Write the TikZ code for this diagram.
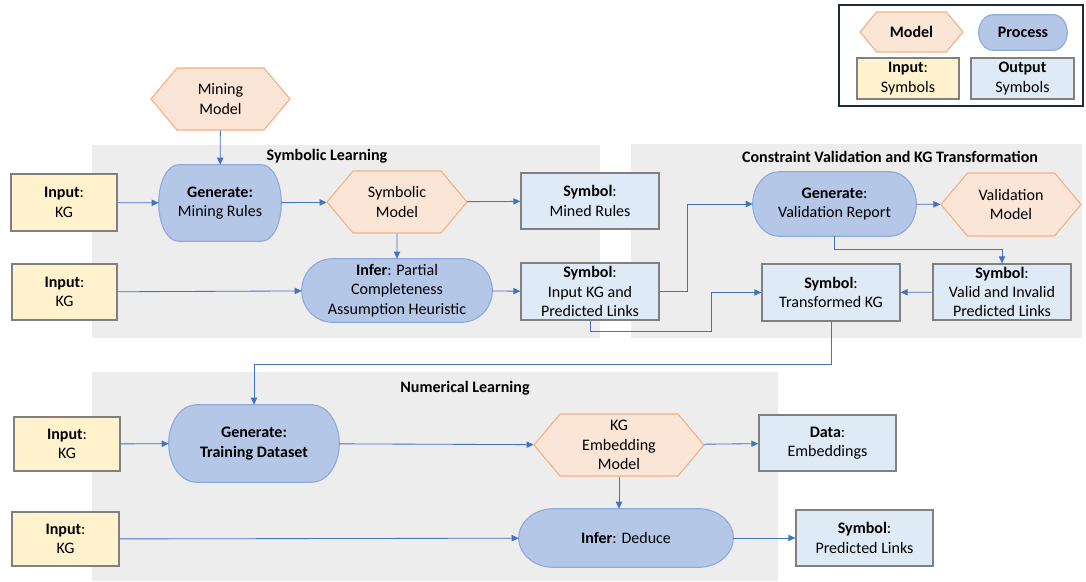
\documentclass[tikz,border=0pt]{standalone}
\usepackage{fontspec}
\setmainfont{Carlito}
\usetikzlibrary{arrows.meta,calc,shapes.symbols}

\definecolor{modelfill}{HTML}{FBE5D6}
\definecolor{modelline}{HTML}{F4B183}
\definecolor{procfill}{HTML}{B4C7E7}
\definecolor{procline}{HTML}{8FAADC}
\definecolor{infill}{HTML}{FFF2CC}
\definecolor{outfill}{HTML}{DEEBF7}
\definecolor{boxline}{HTML}{808080}
\definecolor{regionfill}{HTML}{EDEDED}
\definecolor{flowblue}{HTML}{4472C4}
\definecolor{legendline}{HTML}{1F2A3C}

\pgfdeclarelayer{regions}
\pgfdeclarelayer{shapes}
\pgfsetlayers{regions,shapes,main}

% terminator outline (elliptic ends) behind a process node
\newcommand{\procpill}[1]{%
  \begin{pgfonlayer}{shapes}
    \path[procshape] let \p1=(#1.north west), \p2=(#1.south east),
      \n1={0.161*(\x2-\x1)}, \n2={(\y1-\y2)/2} in
      (\x1+\n1,\y1) -- (\x2-\n1,\y1)
      arc[start angle=90, end angle=-90, x radius=\n1, y radius=\n2]
      -- (\x1+\n1,\y2)
      arc[start angle=270, end angle=90, x radius=\n1, y radius=\n2] -- cycle;
  \end{pgfonlayer}}

\begin{document}
\begin{tikzpicture}[
  x=0.025cm, y=-0.025cm,
  font=\fontsize{11.4}{13.8}\selectfont,
  dims/.style 2 args={minimum width=#1*0.025cm, minimum height=#2*0.025cm},
  model/.style={signal, signal to=west and east, signal pointer angle=100, draw=modelline, fill=modelfill, line width=0.8pt, align=center, inner sep=1pt},
  procbox/.style={rectangle, align=center, inner sep=1pt},
  procshape/.style={draw=procline, fill=procfill, line width=0.8pt},
  inbox/.style={rectangle, draw=boxline, fill=infill, line width=0.9pt, align=center, inner sep=1pt},
  outbox/.style={rectangle, draw=boxline, fill=outfill, line width=0.9pt, align=center, inner sep=1pt},
  region/.style={fill=regionfill},
  grouptitle/.style={font=\fontsize{11.4}{13.8}\selectfont\bfseries, inner sep=0pt},
  flow/.style={draw=flowblue, line width=0.6pt, -{Triangle[length=5pt,width=4.5pt]}}
]
\useasboundingbox (0,0) rectangle (1086,581);

% groups
\begin{pgfonlayer}{regions}
\fill[region] (92,145) rectangle (600,338);
\fill[region] (631,144) rectangle (1082,338);
\fill[region] (92,372) rectangle (778,581);
\end{pgfonlayer}
\node[grouptitle] (symtitle) at (327,156) {Symbolic Learning};
\node[grouptitle] (cvtitle) at (890,157) {Constraint Validation and KG Transformation};
\node[grouptitle] (numtitle) at (465,388) {Numerical Learning};

% legend
\draw[legendline, line width=1pt] (839,5) rectangle (1083,106);
\node[model, dims={103}{40}] (lmodel) at (911.5,32) {\textbf{Model}};
\node[procbox, dims={88}{35}] (lproc) at (1023,32.5) {\textbf{Process}};
\procpill{lproc}
\node[inbox, dims={102}{41}] (linput) at (908,78.5) {\textbf{Input}:\\Symbols};
\node[outbox, dims={103}{41}] (loutput) at (1022.5,78.5) {\textbf{Output}\\Symbols};

% symbolic learning
\node[model, dims={139}{62}] (mining) at (220.5,99) {Mining\\Model};
\node[inbox, dims={106}{57}] (in1) at (64,202.5) {\textbf{Input}:\\KG};
\node[procbox, dims={122}{76}] (genrules) at (220,203) {\textbf{Generate:}\\Mining Rules};
\procpill{genrules}
\node[model, dims={140}{62}] (symmodel) at (397,202) {Symbolic\\Model};
\node[outbox, dims={138}{56}] (minedrules) at (590,201) {\textbf{Symbol}:\\Mined Rules};
\node[inbox, dims={105}{56}] (in2) at (64.5,292) {\textbf{Input}:\\KG};
\node[procbox, dims={190}{63}] (infer) at (397,290.5) {\textbf{Infer}: Partial\\Completeness\\Assumption Heuristic};
\procpill{infer}
\node[outbox, dims={138}{57}] (inkgpl) at (590,291.5) {\textbf{Symbol}:\\Input KG and\\Predicted Links};

% constraint validation
\node[procbox, dims={163}{64}] (valreport) at (834.5,204) {\textbf{Generate}:\\Validation Report};
\procpill{valreport}
\node[model, dims={140}{63}] (valmodel) at (1011,204.5) {Validation\\Model};
\node[outbox, dims={138}{57}] (transkg) at (831,292.5) {\textbf{Symbol}:\\Transformed KG};
\node[outbox, dims={138}{56}] (validlinks) at (1002,292) {\textbf{Symbol}:\\Valid and Invalid\\Predicted Links};

% numerical learning
\node[inbox, dims={106}{54}] (in3) at (67,444) {\textbf{Input}:\\KG};
\node[procbox, dims={170}{77}] (gentrain) at (254,443.5) {\textbf{Generate:}\\\textbf{Training Dataset}};
\procpill{gentrain}
\node[model, dims={170}{62}] (kgemb) at (619,445) {KG\\Embedding\\Model};
\node[outbox, dims={137}{56}] (embed) at (827.5,443) {\textbf{Data}:\\Embeddings};
\node[inbox, dims={107}{54}] (in4) at (65.5,539) {\textbf{Input}:\\KG};
\node[procbox, dims={214}{58}] (deduce) at (626,538) {\textbf{Infer}: Deduce};
\procpill{deduce}
\node[outbox, dims={137}{56}] (predlinks) at (864.5,538) {\textbf{Symbol}:\\Predicted Links};

\coordinate (jog) at (711,331);
\coordinate (back) at (831,364);

\draw[flow] (mining) -- (genrules);
\draw[flow] (in1) -- (genrules);
\draw[flow] (genrules) -- (symmodel);
\draw[flow] (symmodel) -- (minedrules);
\draw[flow] (symmodel) -- (infer);
\draw[flow] (in2) -- (infer);
\draw[flow] (infer) -- (inkgpl);
\draw[flow] (inkgpl.east) -- ++(28,0) |- (valreport.west);
\draw[flow] (valreport) -- (valmodel);
\draw[flow] (valreport.south) -- ++(0,13) -| (validlinks.north);
\draw[flow] (validlinks) -- (transkg);
\draw[flow] (inkgpl.south) |- (jog) |- (transkg.west);
\draw[flow] (transkg.south) -- (back) -| (gentrain.north);
\draw[flow] (in3) -- (gentrain);
\draw[flow] (gentrain) -- (kgemb);
\draw[flow] (kgemb) -- (embed);
\draw[flow] (kgemb.south) -- (kgemb.south |- deduce.north);
\draw[flow] (in4) -- (deduce);
\draw[flow] (deduce) -- (predlinks);
\end{tikzpicture}
\end{document}
